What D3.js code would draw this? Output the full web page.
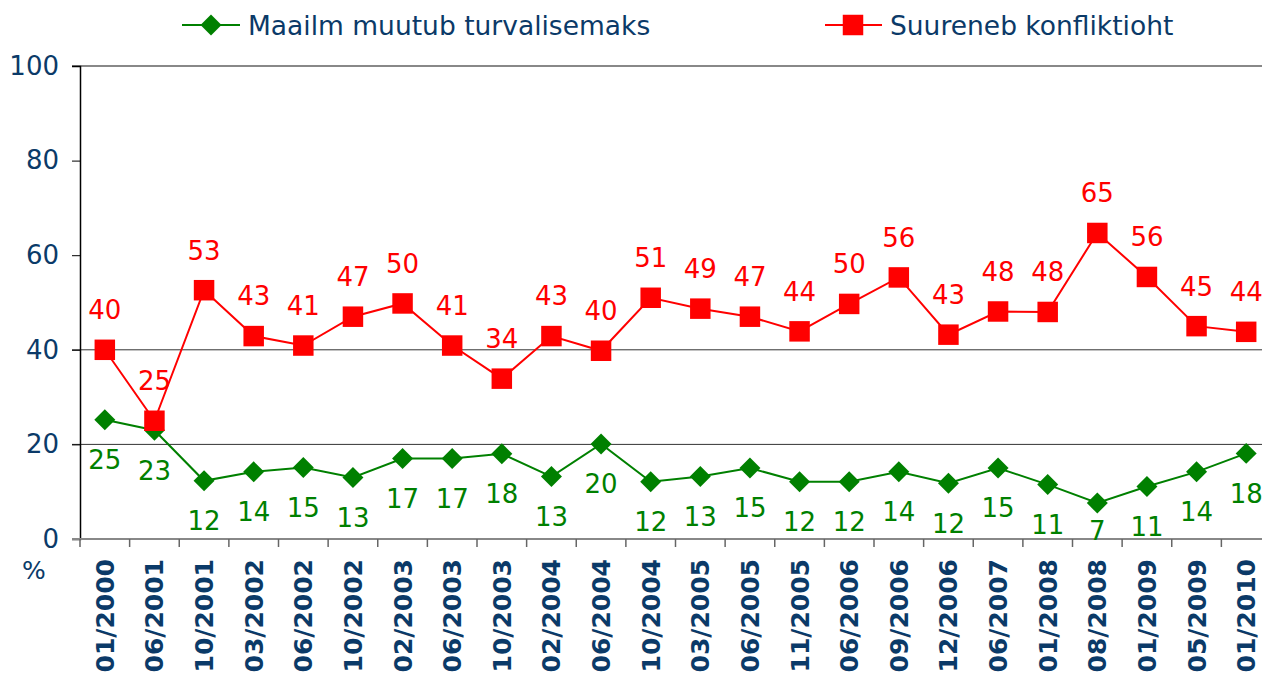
<!DOCTYPE html>
<html>
<head>
<meta charset="utf-8">
<script src="https://cdn.jsdelivr.net/npm/d3@7"></script>
<style>
  body { margin: 0; background: #fff; overflow: hidden; }
  svg { display: block; font-family: "DejaVu Sans", Verdana, sans-serif; }
</style>
</head>
<body>
<div id="chart"></div>
<script>
// categories (survey dates)
const categories = ["01/2000", "06/2001", "10/2001", "03/2002", "06/2002", "10/2002", "02/2003", "06/2003",
  "10/2003", "02/2004", "06/2004", "10/2004", "03/2005", "06/2005", "11/2005", "06/2006",
  "09/2006", "12/2006", "06/2007", "01/2008", "08/2008", "01/2009", "05/2009", "01/2010"];

// series values (plotted) and their shown labels
const saferValues = [25.2, 23, 12.3, 14.2, 15.1, 13, 17, 17, 18, 13.2, 20.1, 12.1, 13.2, 15, 12.1, 12.1,
  14.2, 11.8, 15, 11.5, 7.6, 11.1, 14.2, 18.1];
const saferLabels = [25, 23, 12, 14, 15, 13, 17, 17, 18, 13, 20, 12, 13, 15, 12, 12, 14, 12, 15, 11, 7, 11, 14, 18];
const conflictValues = [40, 25, 52.6, 42.9, 40.9, 47, 49.8, 40.9, 33.9, 42.9, 39.8, 51, 48.7, 47, 43.9, 49.7,
  55.3, 43.2, 48.1, 48, 64.7, 55.4, 45, 43.8];
const conflictLabels = [40, 25, 53, 43, 41, 47, 50, 41, 34, 43, 40, 51, 49, 47, 44, 50, 56, 43, 48, 48, 65, 56, 45, 44];

// axis ticks
const yTicks = [0, 20, 40, 60, 80, 100];
const gridValues = [20, 40];
const seriesNames = ["Maailm muutub turvalisemaks", "Suureneb konfliktioht"];

const width = 1262, height = 677;
const navy = "#0b3a68", green = "#008000", red = "#ff0000";

const svg = d3.select("#chart").append("svg")
  .attr("width", width).attr("height", height);

const x = d3.scaleBand().domain(categories).range([80, 1271]);
const y = d3.scaleLinear().domain([0, 100]).range([539, 66]);
const cx = c => x(c) + x.bandwidth() / 2;

// gridlines
svg.append("g").selectAll("line").data(gridValues).join("line")
  .attr("x1", 72).attr("x2", width).attr("y1", d => y(d)).attr("y2", d => y(d))
  .attr("stroke", "#333").attr("stroke-width", 1);

// top border at 100
svg.append("line").attr("x1", 72).attr("x2", width).attr("y1", y(100)).attr("y2", y(100))
  .attr("stroke", "#888").attr("stroke-width", 2);

// y axis
const yAxis = svg.append("g").attr("transform", "translate(80,0)")
  .call(d3.axisLeft(y).tickValues(yTicks).tickSize(8).tickPadding(13));
yAxis.select(".domain").attr("stroke", "#000").attr("stroke-width", 1.5);
yAxis.selectAll(".tick line").attr("stroke", "#000");
yAxis.selectAll("text").attr("fill", navy).style("font-size", "26px").attr("font-family", "DejaVu Sans");

// x axis
const xAxis = svg.append("g").attr("transform", `translate(0,${y(0)})`)
  .call(d3.axisBottom(x).tickSize(0).tickPadding(0));
xAxis.select(".domain").remove();
svg.append("line").attr("x1", 72).attr("x2", width).attr("y1", y(0)).attr("y2", y(0))
  .attr("stroke", "#888").attr("stroke-width", 2);
svg.append("g").selectAll("line").data(categories).join("line")
  .attr("x1", d => x(d)).attr("x2", d => x(d)).attr("y1", y(0)).attr("y2", y(0) + 8)
  .attr("stroke", "#666").attr("stroke-width", 1.5);
xAxis.selectAll("text")
  .attr("transform", "rotate(-90)")
  .attr("x", -20).attr("y", 0).attr("dy", "0.36em")
  .attr("text-anchor", "end")
  .attr("fill", navy).style("font-size", "25px").style("font-weight", "bold")
  .attr("font-family", "DejaVu Sans");

svg.append("text").attr("x", 34).attr("y", 579).attr("text-anchor", "middle")
  .attr("fill", navy).style("font-size", "25px").text("%");

// lines
const line = d3.line().x((d, i) => cx(categories[i])).y(d => y(d));
svg.append("path").datum(saferValues).attr("d", line)
  .attr("fill", "none").attr("stroke", green).attr("stroke-width", 2);
svg.append("path").datum(conflictValues).attr("d", line)
  .attr("fill", "none").attr("stroke", red).attr("stroke-width", 2);

const diamond = d3.symbol().type(d3.symbolSquare).size(220);
const square = d3.symbol().type(d3.symbolSquare).size(420);

svg.append("g").selectAll("path").data(saferValues).join("path")
  .attr("d", diamond)
  .attr("transform", (d, i) => `translate(${cx(categories[i])},${y(d)}) rotate(45)`)
  .attr("fill", green);
svg.append("g").selectAll("path").data(conflictValues).join("path")
  .attr("d", square)
  .attr("transform", (d, i) => `translate(${cx(categories[i])},${y(d)})`)
  .attr("fill", red);

// data labels
svg.append("g").selectAll("text").data(saferValues).join("text")
  .attr("x", (d, i) => cx(categories[i]))
  .attr("y", d => Math.min(y(d) + 40, 531))
  .attr("dy", "0.36em").attr("text-anchor", "middle")
  .attr("fill", green).style("font-size", "26px")
  .text((d, i) => saferLabels[i]);
svg.append("g").selectAll("text").data(conflictValues).join("text")
  .attr("x", (d, i) => cx(categories[i]))
  .attr("y", d => y(d) - 40)
  .attr("dy", "0.36em").attr("text-anchor", "middle")
  .attr("fill", red).style("font-size", "26px")
  .text((d, i) => conflictLabels[i]);

// legend
const legend = svg.append("g");
const lg1 = legend.append("g").attr("transform", "translate(182,25)");
lg1.append("line").attr("x1", 0).attr("x2", 58).attr("stroke", green).attr("stroke-width", 2);
lg1.append("path").attr("d", diamond).attr("transform", "translate(29,0) rotate(45)").attr("fill", green);
lg1.append("text").attr("x", 66).attr("dy", "0.36em").attr("fill", navy)
  .style("font-size", "26.5px").text(seriesNames[0]);

const lg2 = legend.append("g").attr("transform", "translate(825,25)");
lg2.append("line").attr("x1", 0).attr("x2", 57).attr("stroke", red).attr("stroke-width", 2);
lg2.append("path").attr("d", square).attr("transform", "translate(28,0)").attr("fill", red);
lg2.append("text").attr("x", 65).attr("dy", "0.36em").attr("fill", navy)
  .style("font-size", "26.5px").text(seriesNames[1]);
</script>
</body>
</html>
